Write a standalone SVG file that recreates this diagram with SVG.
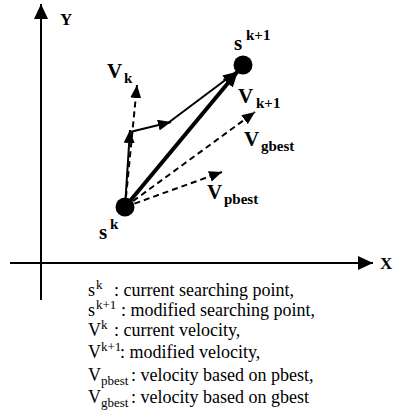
<svg xmlns="http://www.w3.org/2000/svg" width="395" height="419" viewBox="0 0 395 419">
<style>
text{font-family:'Liberation Serif','Times New Roman',Tinos,'DejaVu Serif',serif;fill:#000}
.lab{font-weight:bold}
.big{font-size:21px}
.sml{font-size:15px}
.leg{font-size:18px}
.legs{font-size:13px}
.ax{stroke:#000;stroke-width:2;fill:none}
.thin{stroke:#000;stroke-width:2;fill:none}
.thick{stroke:#000;stroke-width:4;fill:none}
.dash{stroke:#000;stroke-width:2;stroke-dasharray:6,4;fill:none}
</style>
<defs>
<marker id="axh" markerUnits="userSpaceOnUse" markerWidth="15" markerHeight="14" refX="15" refY="7" orient="auto"><path d="M0,0 L15,7 L0,14 z" fill="#000"/></marker>
<marker id="sh" markerUnits="userSpaceOnUse" markerWidth="13" markerHeight="11" refX="13" refY="5.5" orient="auto"><path d="M0,0 L13,5.5 L0,11 z" fill="#000"/></marker>
<marker id="th" markerUnits="userSpaceOnUse" markerWidth="16" markerHeight="13" refX="16" refY="6.5" orient="auto"><path d="M0,0 L16,6.5 L0,13 z" fill="#000"/></marker>
</defs>
<g id="axes">
<line class="ax" x1="41" y1="300" x2="41" y2="4" marker-end="url(#axh)"/>
<line class="ax" x1="10" y1="263" x2="373" y2="263" marker-end="url(#axh)"/>
<text class="lab" x="60" y="25" font-size="17" font-family="Liberation Serif, serif">Y</text>
<text class="lab" x="380" y="269" font-size="17" font-family="Liberation Serif, serif">X</text>
</g>
<g id="connectors">
<line class="thick" x1="125" y1="207" x2="238" y2="71" marker-end="url(#th)"/>
<line class="thin" x1="125" y1="207" x2="130" y2="130" marker-end="url(#sh)"/>
<line class="thin" x1="130" y1="132" x2="171" y2="122" marker-end="url(#sh)"/>
<line class="thin" x1="168" y1="123" x2="236" y2="72" marker-end="url(#sh)"/>
<line class="dash" x1="125" y1="207" x2="137" y2="85" marker-end="url(#sh)"/>
<line class="dash" x1="125" y1="207" x2="255" y2="112" marker-end="url(#sh)"/>
<line class="dash" x1="125" y1="207" x2="222" y2="172" marker-end="url(#sh)"/>
</g>
<g id="node-sk">
<circle cx="125" cy="207" r="9.5" fill="#000"/>
<text class="lab big" x="99" y="239">s</text>
<text class="lab sml" x="110" y="229">k</text>
</g>
<g id="node-sk1">
<circle cx="243" cy="65" r="9.5" fill="#000"/>
<text class="lab big" x="234" y="50">s</text>
<text class="lab sml" x="246" y="40">k+1</text>
</g>
<g id="label-vk">
<text class="lab big" x="107" y="78">V</text>
<text class="lab sml" x="124" y="83">k</text>
</g>
<g id="label-vk1">
<text class="lab big" x="238" y="103">V</text>
<text class="lab sml" x="256" y="108">k+1</text>
</g>
<g id="label-vgbest">
<text class="lab big" x="244" y="146">V</text>
<text class="lab sml" x="261" y="151">gbest</text>
</g>
<g id="label-vpbest">
<text class="lab big" x="207" y="199">V</text>
<text class="lab sml" x="224" y="204">pbest</text>
</g>
<g id="legend">
<text class="leg" x="88" y="296">s</text><text class="legs" x="96" y="289">k</text><text class="leg" x="114" y="296">: current searching point,</text>
<text class="leg" x="88" y="316">s</text><text class="legs" x="96" y="309">k+1</text><text class="leg" x="121" y="316">: modified searching point,</text>
<text class="leg" x="88" y="336">V</text><text class="legs" x="101" y="329">k</text><text class="leg" x="114" y="336">: current velocity,</text>
<text class="leg" x="88" y="358">V</text><text class="legs" x="101" y="351">k+1</text><text class="leg" x="120" y="358">: modified velocity,</text>
<text class="leg" x="88" y="381">V</text><text class="legs" x="101" y="385">pbest</text><text class="leg" x="131" y="381">: velocity based on pbest,</text>
<text class="leg" x="88" y="403">V</text><text class="legs" x="101" y="407">gbest</text><text class="leg" x="131" y="403">: velocity based on gbest</text>
</g>
</svg>
